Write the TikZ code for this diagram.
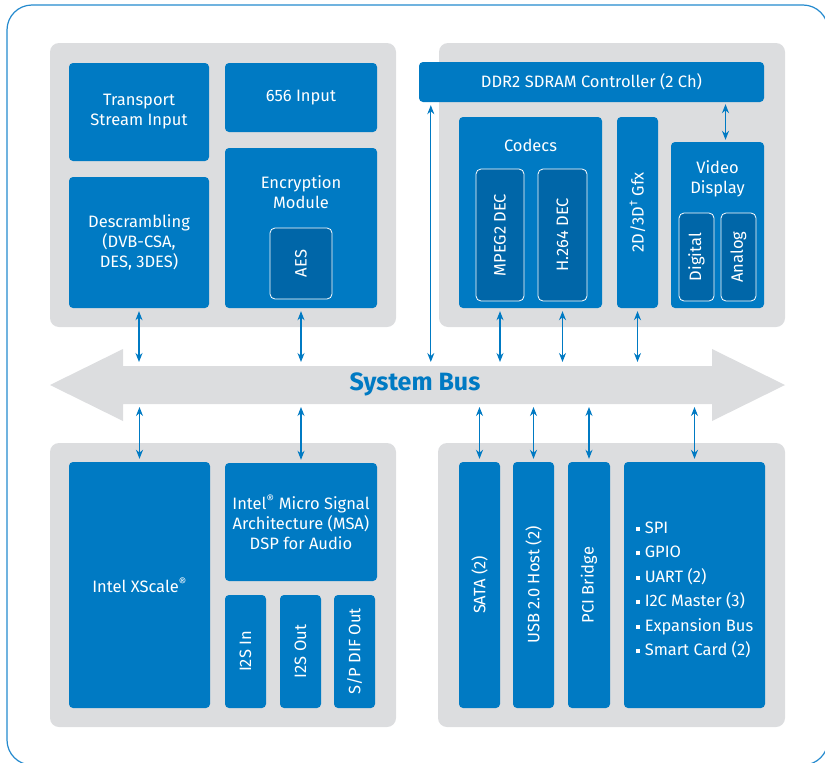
\documentclass[tikz,border=0pt]{standalone}
\usepackage{fontspec}
\usepackage{graphicx}
\setmainfont{Fira Sans}
\usetikzlibrary{arrows.meta}

\definecolor{iblue}{RGB}{0,122,195}
\definecolor{idark}{RGB}{0,102,168}
\definecolor{igray}{RGB}{220,221,223}
\definecolor{iframe}{RGB}{36,138,206}

\tikzset{
  panel/.style={fill=igray, rounded corners=9pt},
  blk/.style={fill=iblue, rounded corners=4pt, text=white, align=center, inner sep=0pt},
  subblk/.style={fill=idark, draw=white, line width=0.8pt, rounded corners=5pt, text=white, inner sep=0pt},
  lbl/.style={text=white, align=center, inner sep=0pt},
  link/.style={iblue, line width=1.1pt, {Stealth[length=9pt,width=7pt]}-{Stealth[length=9pt,width=7pt]}, shorten <=3pt},
}
\newcommand\up[1]{\rotatebox{90}{#1}}
\newcommand\sqb{\rule[2.5pt]{4pt}{4pt}\hspace{5pt}}

\begin{document}
\begin{tikzpicture}[x=1pt, y=-1pt, font=\fontsize{16.5}{20}\selectfont]
\useasboundingbox (0,0) rectangle (825,763);
\begin{scope}
  \clip (0,0) rectangle (825,763);
  \draw [iframe, line width=1.2pt, rounded corners=25pt] (7,5) rectangle (828,765);
\end{scope}

% grey panels and the bus
\fill [panel] (50,43) rectangle (396,327);
\fill [panel] (439,43) rectangle (785,327);
\fill [panel] (50,443) rectangle (396,727);
\fill [panel] (438,443) rectangle (785,727);
\fill [igray] (50,385) -- (123,349) -- (123,366) -- (712,366) -- (712,349) -- (785,385)
      -- (712,421) -- (712,404) -- (123,404) -- (123,421) -- cycle;
\node (bus) at (415,384) [text=iblue, font=\fontsize{25}{28}\selectfont\bfseries] {System Bus};
\coordinate (bustop) at (0,362);
\coordinate (busbot) at (0,407);

% top left
\node (tsi) at (139,112) [blk, minimum width=140pt, minimum height=98pt] {Transport\\Stream Input};
\node (in656) at (301,97.5) [blk, minimum width=152pt, minimum height=69pt] {656 Input};
\node (descr) at (139,242.5) [blk, minimum width=140pt, minimum height=131pt] {Descrambling\\(DVB-CSA,\\DES, 3DES)};
\node (encr) at (301,228) [blk, minimum width=152pt, minimum height=160pt] {};
\node (encrlbl) at (301,192) [lbl] {Encryption\\Module};
\node (aes) at (301,263.5) [subblk, minimum width=62pt, minimum height=71pt] {\up{AES}};

% top right
\node (ddr) at (591.5,82) [blk, minimum width=345pt, minimum height=40pt] {DDR2 SDRAM Controller (2 Ch)};
\node (codecs) at (530.5,212.5) [blk, minimum width=143pt, minimum height=191pt] {};
\node (codecslbl) at (530.5,145) [lbl] {Codecs};
\node (mpeg) at (500,235) [subblk, minimum width=48pt, minimum height=132pt] {\up{MPEG2 DEC}};
\node (h264) at (562.5,235) [subblk, minimum width=49pt, minimum height=132pt] {\up{H.264 DEC}};
\node (gfx) at (637.5,212.5) [blk, minimum width=41pt, minimum height=191pt] {\up{2D/3D\textsuperscript{\textdagger} Gfx}};
\node (vdisp) at (717.5,225) [blk, minimum width=93pt, minimum height=166pt] {};
\node (vdisplbl) at (717.5,179) [lbl] {Video\\Display};
\node (digital) at (696.5,257) [subblk, minimum width=35pt, minimum height=88pt] {\up{Digital}};
\node (analog) at (738.5,257) [subblk, minimum width=35pt, minimum height=88pt] {\up{Analog}};

% bottom left
\node (xscale) at (139.5,585) [blk, minimum width=141pt, minimum height=246pt] {Intel XScale\textsuperscript{®}};
\node (msa) at (301,522) [blk, minimum width=152pt, minimum height=118pt] {Intel\textsuperscript{®} Micro Signal\\Architecture (MSA)\\DSP for Audio};
\node (i2sin) at (245.5,651.5) [blk, minimum width=41pt, minimum height=113pt] {\up{I2S In}};
\node (i2sout) at (300.5,651.5) [blk, minimum width=41pt, minimum height=113pt] {\up{I2S Out}};
\node (spdif) at (354.5,651.5) [blk, minimum width=41pt, minimum height=113pt] {\up{S/P DIF Out}};

% bottom right
\node (sata) at (479.5,585) [blk, minimum width=41pt, minimum height=246pt] {\up{SATA (2)}};
\node (usb) at (533.5,585) [blk, minimum width=41pt, minimum height=246pt] {\up{USB 2.0 Host (2)}};
\node (pci) at (589,585) [blk, minimum width=42pt, minimum height=246pt] {\up{PCI Bridge}};
\node (periph) at (694.5,585) [blk, minimum width=141pt, minimum height=246pt] {};
\node (perlist) at (694.5,590) [lbl, align=left, font=\fontsize{16.5}{24.5}\selectfont]
      {\sqb SPI\\ \sqb GPIO\\ \sqb UART (2)\\ \sqb I2C Master (3)\\ \sqb Expansion Bus\\ \sqb Smart Card (2)};

% links to the bus
\draw [link] (descr.south) -- (descr |- bustop);
\draw [link] (encr.south) -- (encr |- bustop);
\draw [link] ([xshift=12pt]ddr.south west) -- ([xshift=12pt]ddr.south west |- bustop);
\draw [link] (codecs.south -| mpeg) -- (mpeg |- bustop);
\draw [link] (codecs.south -| h264) -- (h264 |- bustop);
\draw [link] (gfx.south) -- (gfx |- bustop);
\draw [link, shorten >=2pt, shorten <=2pt] ([xshift=8pt]vdisp.north) -- ([xshift=8pt]vdisp.north |- ddr.south);
\draw [link] (xscale.north) -- (xscale |- busbot);
\draw [link] (msa.north) -- (msa |- busbot);
\draw [link] (sata.north) -- (sata |- busbot);
\draw [link] (usb.north) -- (usb |- busbot);
\draw [link] (pci.north) -- (pci |- busbot);
\draw [link] (periph.north) -- (periph |- busbot);
\end{tikzpicture}
\end{document}
